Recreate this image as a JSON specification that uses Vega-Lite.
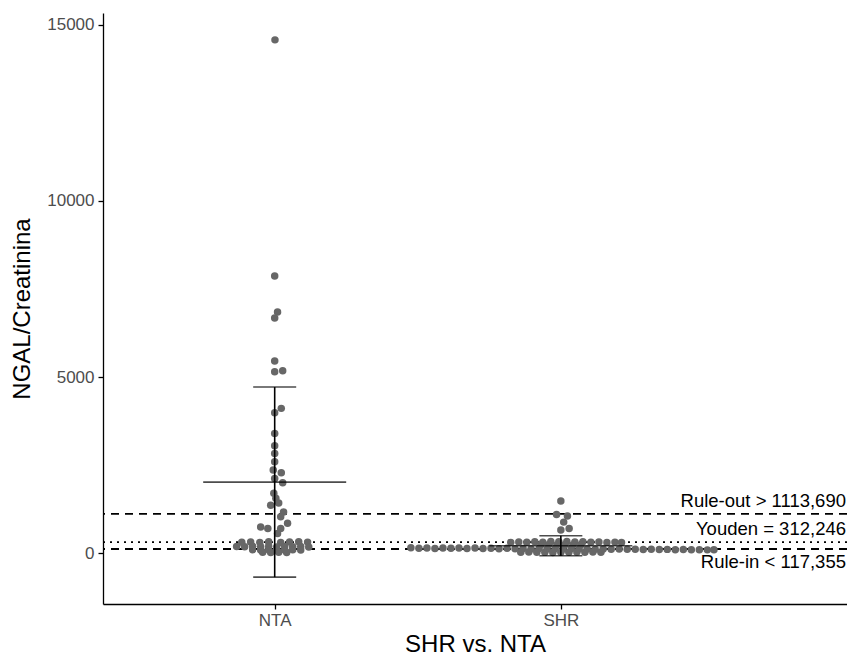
{
  "$schema": "https://vega.github.io/schema/vega-lite/v6.json",
  "width": 744,
  "height": 591,
  "autosize": {"type": "none"},
  "padding": {"left": 103, "top": 13, "right": 0, "bottom": 55},
  "background": "white",
  "config": {
    "view": {"stroke": null},
    "font": "Liberation Sans",
    "axis": {
      "grid": false,
      "domainColor": "black",
      "domainWidth": 1.3,
      "tickColor": "black",
      "tickWidth": 1.3,
      "tickSize": 5,
      "labelColor": "#4D4D4D",
      "labelFont": "Liberation Sans",
      "labelFontSize": 17,
      "titleFont": "Liberation Sans",
      "titleFontWeight": "normal",
      "titleColor": "black",
      "titleFontSize": 24
    }
  },
  "datasets": {
    "obs": [
      {"group": "NTA", "pos": 1.001, "value": 14574},
      {"group": "NTA", "pos": 1.0, "value": 7869},
      {"group": "NTA", "pos": 1.01, "value": 6847},
      {"group": "NTA", "pos": 1.0, "value": 6676},
      {"group": "NTA", "pos": 1.0, "value": 5455},
      {"group": "NTA", "pos": 1.028, "value": 5179},
      {"group": "NTA", "pos": 1.0, "value": 5151},
      {"group": "NTA", "pos": 1.023, "value": 4110},
      {"group": "NTA", "pos": 1.0, "value": 3986},
      {"group": "NTA", "pos": 1.0, "value": 3400},
      {"group": "NTA", "pos": 1.0, "value": 3049},
      {"group": "NTA", "pos": 1.0, "value": 2832},
      {"group": "NTA", "pos": 1.0, "value": 2594},
      {"group": "NTA", "pos": 0.995, "value": 2358},
      {"group": "NTA", "pos": 1.023, "value": 2282},
      {"group": "NTA", "pos": 1.0, "value": 2120},
      {"group": "NTA", "pos": 1.028, "value": 1997},
      {"group": "NTA", "pos": 0.997, "value": 1700},
      {"group": "NTA", "pos": 1.004, "value": 1560},
      {"group": "NTA", "pos": 1.014, "value": 1420},
      {"group": "NTA", "pos": 0.986, "value": 1360},
      {"group": "NTA", "pos": 1.031, "value": 1170},
      {"group": "NTA", "pos": 1.021, "value": 1030},
      {"group": "NTA", "pos": 1.045, "value": 850},
      {"group": "NTA", "pos": 0.951, "value": 740},
      {"group": "NTA", "pos": 0.976, "value": 700},
      {"group": "NTA", "pos": 1.021, "value": 700},
      {"group": "NTA", "pos": 1.01, "value": 560},
      {"group": "NTA", "pos": 0.885, "value": 310},
      {"group": "NTA", "pos": 0.916, "value": 318},
      {"group": "NTA", "pos": 0.948, "value": 305},
      {"group": "NTA", "pos": 0.979, "value": 322},
      {"group": "NTA", "pos": 1.021, "value": 300},
      {"group": "NTA", "pos": 1.052, "value": 315},
      {"group": "NTA", "pos": 1.084, "value": 320},
      {"group": "NTA", "pos": 1.115, "value": 312},
      {"group": "NTA", "pos": 0.867, "value": 185},
      {"group": "NTA", "pos": 0.895, "value": 178},
      {"group": "NTA", "pos": 0.923, "value": 192},
      {"group": "NTA", "pos": 0.951, "value": 180},
      {"group": "NTA", "pos": 0.979, "value": 195},
      {"group": "NTA", "pos": 1.007, "value": 176},
      {"group": "NTA", "pos": 1.035, "value": 188},
      {"group": "NTA", "pos": 1.063, "value": 182},
      {"group": "NTA", "pos": 1.091, "value": 190},
      {"group": "NTA", "pos": 1.119, "value": 175},
      {"group": "NTA", "pos": 0.923, "value": 95},
      {"group": "NTA", "pos": 0.951, "value": 88},
      {"group": "NTA", "pos": 0.979, "value": 92},
      {"group": "NTA", "pos": 1.007, "value": 85},
      {"group": "NTA", "pos": 1.035, "value": 90},
      {"group": "NTA", "pos": 1.063, "value": 96},
      {"group": "NTA", "pos": 1.091, "value": 87},
      {"group": "NTA", "pos": 0.958, "value": 22},
      {"group": "NTA", "pos": 0.986, "value": 18},
      {"group": "NTA", "pos": 1.014, "value": 25},
      {"group": "NTA", "pos": 1.042, "value": 20},

      {"group": "SHR", "pos": 2.0, "value": 1477},
      {"group": "SHR", "pos": 1.985, "value": 1099},
      {"group": "SHR", "pos": 2.023, "value": 1051},
      {"group": "SHR", "pos": 2.01, "value": 880},
      {"group": "SHR", "pos": 2.029, "value": 701},
      {"group": "SHR", "pos": 2.0, "value": 653},
      {"group": "SHR", "pos": 1.476, "value": 150},
      {"group": "SHR", "pos": 1.504, "value": 138},
      {"group": "SHR", "pos": 1.532, "value": 145},
      {"group": "SHR", "pos": 1.56, "value": 132},
      {"group": "SHR", "pos": 1.588, "value": 148},
      {"group": "SHR", "pos": 1.616, "value": 135},
      {"group": "SHR", "pos": 1.644, "value": 142},
      {"group": "SHR", "pos": 1.672, "value": 130},
      {"group": "SHR", "pos": 1.7, "value": 146},
      {"group": "SHR", "pos": 1.728, "value": 128},
      {"group": "SHR", "pos": 1.756, "value": 140},
      {"group": "SHR", "pos": 1.784, "value": 125},
      {"group": "SHR", "pos": 1.812, "value": 137},
      {"group": "SHR", "pos": 1.84, "value": 122},
      {"group": "SHR", "pos": 1.868, "value": 134},
      {"group": "SHR", "pos": 1.896, "value": 120},
      {"group": "SHR", "pos": 1.924, "value": 130},
      {"group": "SHR", "pos": 1.952, "value": 118},
      {"group": "SHR", "pos": 1.98, "value": 127},
      {"group": "SHR", "pos": 2.008, "value": 116},
      {"group": "SHR", "pos": 2.036, "value": 124},
      {"group": "SHR", "pos": 2.064, "value": 114},
      {"group": "SHR", "pos": 2.092, "value": 120},
      {"group": "SHR", "pos": 2.12, "value": 112},
      {"group": "SHR", "pos": 2.148, "value": 118},
      {"group": "SHR", "pos": 2.176, "value": 110},
      {"group": "SHR", "pos": 2.204, "value": 115},
      {"group": "SHR", "pos": 2.232, "value": 108},
      {"group": "SHR", "pos": 2.26, "value": 112},
      {"group": "SHR", "pos": 2.288, "value": 105},
      {"group": "SHR", "pos": 2.316, "value": 110},
      {"group": "SHR", "pos": 2.344, "value": 102},
      {"group": "SHR", "pos": 2.372, "value": 106},
      {"group": "SHR", "pos": 2.4, "value": 98},
      {"group": "SHR", "pos": 2.428, "value": 102},
      {"group": "SHR", "pos": 2.456, "value": 95},
      {"group": "SHR", "pos": 2.484, "value": 98},
      {"group": "SHR", "pos": 2.512, "value": 92},
      {"group": "SHR", "pos": 2.535, "value": 95},
      {"group": "SHR", "pos": 1.825, "value": 305},
      {"group": "SHR", "pos": 1.853, "value": 318},
      {"group": "SHR", "pos": 1.881, "value": 310},
      {"group": "SHR", "pos": 1.909, "value": 325},
      {"group": "SHR", "pos": 1.937, "value": 312},
      {"group": "SHR", "pos": 1.965, "value": 330},
      {"group": "SHR", "pos": 1.993, "value": 320},
      {"group": "SHR", "pos": 2.021, "value": 328},
      {"group": "SHR", "pos": 2.049, "value": 315},
      {"group": "SHR", "pos": 2.077, "value": 322},
      {"group": "SHR", "pos": 2.105, "value": 308},
      {"group": "SHR", "pos": 2.133, "value": 318},
      {"group": "SHR", "pos": 2.161, "value": 302},
      {"group": "SHR", "pos": 2.189, "value": 312},
      {"group": "SHR", "pos": 2.212, "value": 300},
      {"group": "SHR", "pos": 1.93, "value": 235},
      {"group": "SHR", "pos": 1.958, "value": 245},
      {"group": "SHR", "pos": 1.986, "value": 230},
      {"group": "SHR", "pos": 2.014, "value": 240},
      {"group": "SHR", "pos": 2.042, "value": 232},
      {"group": "SHR", "pos": 2.07, "value": 238},
      {"group": "SHR", "pos": 1.86, "value": 25},
      {"group": "SHR", "pos": 1.888, "value": 30},
      {"group": "SHR", "pos": 1.916, "value": 22},
      {"group": "SHR", "pos": 1.944, "value": 28},
      {"group": "SHR", "pos": 1.972, "value": 20},
      {"group": "SHR", "pos": 2.0, "value": 26},
      {"group": "SHR", "pos": 2.028, "value": 21},
      {"group": "SHR", "pos": 2.056, "value": 29},
      {"group": "SHR", "pos": 2.084, "value": 24},
      {"group": "SHR", "pos": 2.112, "value": 30},
      {"group": "SHR", "pos": 2.14, "value": 23}
    ],
    "summary": [
      {"group": "NTA", "pos": 1, "mean": 2017, "lo": -682, "hi": 4716},
      {"group": "SHR", "pos": 2, "mean": 207, "lo": -77, "hi": 491}
    ],
    "cutoffs": [
      {"name": "Rule-out", "value": 1113.69, "line": "dashed", "label": "Rule-out > 1113,690", "side": "above"},
      {"name": "Youden", "value": 312.246, "line": "dotted", "label": "Youden = 312,246", "side": "above"},
      {"name": "Rule-in", "value": 117.355, "line": "dashed", "label": "Rule-in < 117,355", "side": "below"}
    ]
  },
  "encoding": {
    "x": {
      "type": "quantitative",
      "scale": {"domain": [0.4, 3.0], "nice": false, "zero": false},
      "axis": {
        "title": "SHR vs. NTA",
        "values": [1, 2],
        "labelExpr": "datum.value == 1 ? 'NTA' : 'SHR'",
        "labelPadding": 3,
        "titlePadding": 4
      }
    },
    "y": {
      "type": "quantitative",
      "scale": {"domain": [-1445, 15337], "nice": false, "zero": false},
      "axis": {
        "title": "NGAL/Creatinina",
        "values": [0, 5000, 10000, 15000],
        "format": "d",
        "labelPadding": 4,
        "titlePadding": 12
      }
    }
  },
  "layer": [
    {
      "data": {"name": "cutoffs"},
      "mark": {"type": "rule", "color": "black", "strokeWidth": 1.8},
      "encoding": {
        "y": {"field": "value", "type": "quantitative"},
        "strokeDash": {
          "field": "line",
          "type": "nominal",
          "scale": {"domain": ["dashed", "dotted"], "range": [[8, 6], [2, 5]]},
          "legend": null
        }
      }
    },
    {
      "data": {"name": "obs"},
      "mark": {"type": "circle", "color": "#676767", "opacity": 1, "size": 56},
      "encoding": {
        "x": {"field": "pos", "type": "quantitative"},
        "y": {"field": "value", "type": "quantitative"}
      }
    },
    {
      "data": {"name": "summary"},
      "mark": {"type": "rule", "color": "black", "strokeWidth": 1.6},
      "encoding": {
        "x": {"field": "pos", "type": "quantitative"},
        "y": {"field": "lo", "type": "quantitative"},
        "y2": {"field": "hi"}
      }
    },
    {
      "data": {"name": "summary"},
      "mark": {"type": "tick", "orient": "horizontal", "color": "black", "thickness": 1.6, "size": 43},
      "encoding": {
        "x": {"field": "pos", "type": "quantitative"},
        "y": {"field": "lo", "type": "quantitative"}
      }
    },
    {
      "data": {"name": "summary"},
      "mark": {"type": "tick", "orient": "horizontal", "color": "black", "thickness": 1.6, "size": 43},
      "encoding": {
        "x": {"field": "pos", "type": "quantitative"},
        "y": {"field": "hi", "type": "quantitative"}
      }
    },
    {
      "data": {"name": "summary"},
      "mark": {"type": "tick", "orient": "horizontal", "color": "black", "thickness": 1.6, "size": 143},
      "encoding": {
        "x": {"field": "pos", "type": "quantitative"},
        "y": {"field": "mean", "type": "quantitative"}
      }
    },
    {
      "data": {"name": "cutoffs"},
      "transform": [{"filter": "datum.side == 'above'"}],
      "mark": {"type": "text", "align": "right", "baseline": "bottom", "dy": -3, "dx": -1, "fontSize": 18.5, "font": "Liberation Sans", "color": "black"},
      "encoding": {
        "x": {"datum": 3.0},
        "y": {"field": "value", "type": "quantitative"},
        "text": {"field": "label"}
      }
    },
    {
      "data": {"name": "cutoffs"},
      "transform": [{"filter": "datum.side == 'below'"}],
      "mark": {"type": "text", "align": "right", "baseline": "top", "dy": 4, "dx": -1, "fontSize": 18.5, "font": "Liberation Sans", "color": "black"},
      "encoding": {
        "x": {"datum": 3.0},
        "y": {"field": "value", "type": "quantitative"},
        "text": {"field": "label"}
      }
    }
  ]
}
